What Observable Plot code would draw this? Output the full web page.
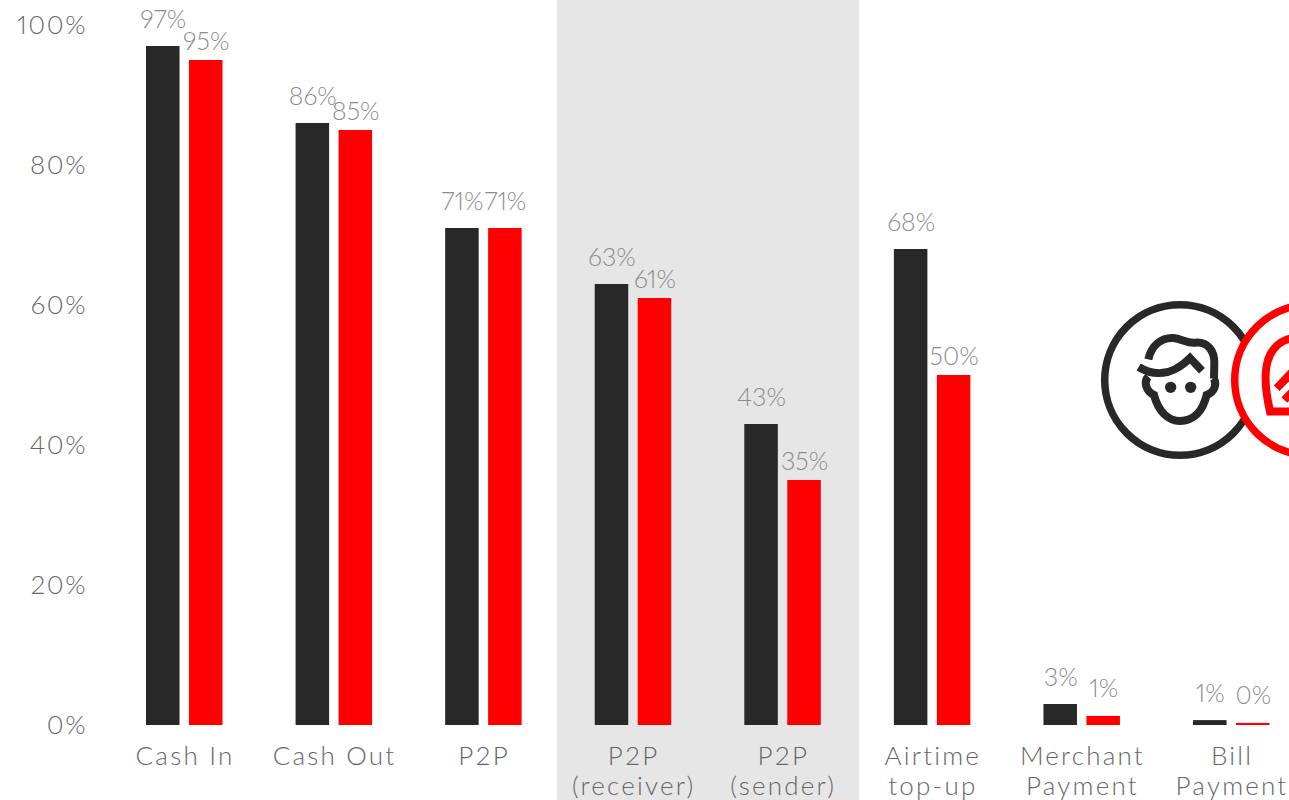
<!DOCTYPE html>
<html>
<head>
<meta charset="utf-8">
<script src="https://cdn.jsdelivr.net/npm/d3@7"></script>
<script src="https://cdn.jsdelivr.net/npm/@observablehq/plot@0.6"></script>
<style>
  html, body { margin: 0; padding: 0; background: #fff; overflow: hidden; }
  svg { display: block; }
  g[aria-label="fx-axis tick label"] { letter-spacing: 2.2px; }
  g[aria-label="y-axis tick label"] { letter-spacing: 1.6px; }
</style>
</head>
<body>
<div id="chart"></div>
<script>
// Share of users per service, for the two customer groups
const categories = ["Cash In", "Cash Out", "P2P", "P2P\n(receiver)", "P2P\n(sender)", "Airtime\ntop-up", "Merchant\nPayment", "Bill\nPayment"];
const seriesA = [97, 86, 71, 63, 43, 68, 3, 0.7];
const seriesB = [95, 85, 71, 61, 35, 50, 1.3, 0.3];
const shaded = ["P2P\n(receiver)", "P2P\n(sender)"];
const yTicks = [0, 20, 40, 60, 80, 100];
// Red-bar labels that sit closer to their bar so they clear the neighbouring label
const closeLabels = ["Cash In", "Cash Out", "P2P\n(receiver)", "P2P\n(sender)", "Airtime\ntop-up"];

const rows = categories.flatMap((c, i) => [
  {category: c, series: "A", value: seriesA[i]},
  {category: c, series: "B", value: seriesB[i]}
]);
const isClose = d => d.series === "B" && closeLabels.includes(d.category);

const FONT = "Lato, 'Noto Sans', sans-serif";
const label = d => Math.round(d.value) + "%";

// Line-art portrait badges that sit over the right side of the plot
function badges() {
  const ns = "http://www.w3.org/2000/svg";
  const g = document.createElementNS(ns, "g");
  g.innerHTML = `
    <g fill="#fff" stroke="#282828" stroke-width="7.5">
      <circle cx="1180" cy="380" r="75.3"/>
      <g fill="none" transform="translate(1080,280) scale(0.3333)" stroke-width="24">
        <path d="M205 238 C215 195 245 172 280 174 C305 176 320 190 345 188 C385 184 404 215 403 250 L402 296"/>
        <path d="M176 261 C240 300 295 270 330 234 L366 272"/>
        <path d="M205 290 C190 305 198 335 222 345 C235 395 265 423 300 423 C340 423 368 395 380 345 C405 335 412 310 400 295"/>
        <circle cx="272" cy="322" r="17" fill="#282828" stroke="none"/>
        <circle cx="332" cy="322" r="17" fill="#282828" stroke="none"/>
      </g>
    </g>
    <g fill="#fff" stroke="#ff0000" stroke-width="7.5">
      <circle cx="1310" cy="380" r="75.3"/>
      <g fill="none" stroke-width="8">
        <path d="M1300 338 C1285 337 1275 345 1270 355 C1264 367 1264 385 1270 411.5 L1300 411.5"/>
        <path d="M1276.7 388.3 L1295 369"/>
        <path d="M1284.3 400 L1295 389"/>
      </g>
    </g>`;
  return g;
}

const labelStyle = {fontSize: 25, fontWeight: 300, fill: "#8c8c8c", fontVariant: "proportional-nums", lineAnchor: "bottom"};

const plot = Plot.plot({
  width: 1289,
  height: 800,
  marginTop: 25,
  marginBottom: 75,
  marginLeft: 95,
  marginRight: 0,
  style: {fontFamily: FONT, background: "transparent", overflow: "hidden"},
  fx: {domain: categories, range: [109.7, 1306.3], padding: 0, round: false, label: null},
  x: {domain: ["A", "B"], range: [131.3, 207.8], paddingInner: 0.22, paddingOuter: 0, round: false, axis: null},
  y: {domain: [0, 100], label: null},
  color: {domain: ["A", "B"], range: ["#282828", "#ff0000"]},
  marks: [
    Plot.rect(shaded, {fx: d => d, fill: "#e6e6e6", insetTop: -25, insetBottom: -75, insetLeft: -1.5, insetRight: -1.5}),
    Plot.axisY({ticks: yTicks, tickSize: 0, tickPadding: 23, tickFormat: d => d + "%", fontSize: 26, fontWeight: 300, fill: "#666", fontVariant: "proportional-nums", label: null}),
    Plot.axisFx({anchor: "bottom", tickSize: 0, tickPadding: 18, fontSize: 26, fontWeight: 300, fill: "#666", lineHeight: 1.15, label: null, tickFormat: d => d}),
    Plot.barY(rows, {fx: "category", x: "series", y: "value", fill: "series"}),
    Plot.text(rows.filter(d => !isClose(d)), {fx: "category", x: "series", y: "value", text: label, dy: -19, ...labelStyle}),
    Plot.text(rows.filter(isClose), {fx: "category", x: "series", y: "value", text: label, dy: -11, ...labelStyle})
  ]
});

plot.append(badges());
document.getElementById("chart").append(plot);
</script>
</body>
</html>
